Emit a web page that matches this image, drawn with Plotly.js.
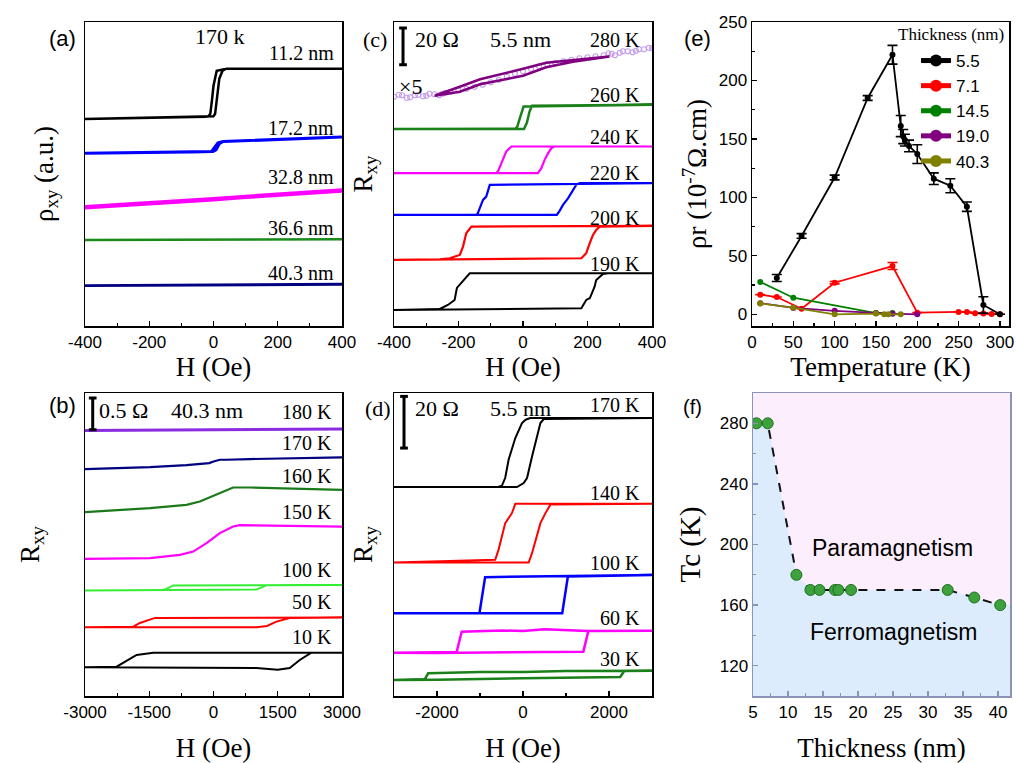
<!DOCTYPE html>
<html><head><meta charset="utf-8">
<script src="https://cdn.plot.ly/plotly-3.0.1.min.js"></script>
<style>html,body{margin:0;padding:0;background:#fff}#chart{width:1016px;height:763px}</style>
</head><body><div id="chart"></div>
<script>
// ---------- Panel (a): rho_xy vs H at 170 K, different thicknesses (a.u., offset) ----------
const a_H_112 = [400, 40, 10, 0, -5, -10, -16, -22, -400, -22, 0, 5, 12, 18, 28, 40, 400];
const a_R_112 = [257, 257, 255, 240, 225, 212, 209.5, 209, 206.7, 209, 209.5, 212, 230, 247, 255, 257, 257];
const a_H_172 = [400, 165, 30, 14, 2, -6, -12, -400, -12, -2, 8, 18, 30, 165, 400];
const a_R_172 = [188.7, 186, 184.3, 183, 178, 174.5, 174, 172.7, 174, 174.3, 176, 182, 184.3, 186, 188.7];
const a_H_328 = [-400, -300, -200, -100, 0, 100, 200, 300, 400];
const a_R_328 = [118.7, 120.5, 122.7, 124.7, 126.7, 129, 131, 133.3, 135.3];
const a_H_366 = [-400, -200, 0, 200, 400];
const a_R_366 = [86, 86.1, 86.3, 86.5, 86.7];
const a_H_403 = [-400, -200, 0, 200, 400];
const a_R_403 = [40.3, 40.5, 40.9, 41.3, 41.7];
const a_ticks = [-400, -200, 0, 200, 400];
const a_ticktext = ['-400', '-200', '0', '200', '400'];

// ---------- Panel (b): 40.3 nm, R_xy vs H ----------
const b_H_180 = [-3000, -1500, 0, 1500, 3000];
const b_R_180 = [265.3, 265.7, 266, 266.3, 266.7];
const b_H_170 = [-3000, -1484, -630, -319, -100, 0, 150, 303, 847, 3000];
const b_R_170 = [226.7, 228.7, 230.7, 232, 232.7, 234.3, 236, 236, 236.7, 238.3];
const b_H_160 = [-3000, -1484, -630, -319, 0, 303, 458, 847, 3000];
const b_R_160 = [183.7, 187.7, 191, 194.3, 200, 206, 208.3, 208.3, 206];
const b_H_150 = [-3000, -1484, -785, -474, -163, 148, 458, 614, 3000];
const b_R_150 = [137, 137.7, 141, 144.3, 152.7, 162.7, 169.3, 170.7, 169.3];
const b_H_100 = [3000, -940, -1100, -1250, -3000, 1000, 1100, 1240, 3000];
const b_R_100 = [111, 110.5, 107, 105.3, 105.3, 106.3, 108, 110.7, 111];
const b_H_50 = [3000, -1050, -1368, -1718, -1873, -3000, 1003, 1250, 1469, 1780, 3000];
const b_R_50 = [78.3, 78.3, 78, 73, 69.3, 68.7, 68.7, 70, 74.3, 78, 78.3];
const b_H_10 = [3000, -1407, -1795, -2262, -3000, -1500, 0, 1000, 1500, 1780, 2013, 2285, 3000];
const b_R_10 = [43.3, 43.3, 41, 29.3, 28.7, 28.7, 28.3, 28, 26.3, 28, 36, 43.3, 43.3];
const b_ticks = [-3000, -1500, 0, 1500, 3000];
const b_ticktext = ['-3000', '-1500', '0', '1500', '3000'];
const b_minor = [-2250, -750, 750, 2250];

// ---------- Panel (c): 5.5 nm, R_xy vs H, 190-280 K ----------
const c_H_280x5 = [-400,-385,-375,-360,-350,-335,-325,-310,-300,-290,-275,-260,-250,-240,-225,-200,-175,-150,-125,-100,-75,-50,-25,0,25,50,75,100,125,150,175,200,225,250,265,275,285,300,310,325,340,350,360,375,390,400];
const c_R_280x5 = [229,231,230.5,228,228.5,230.5,231,229.5,230,232,231.5,230.5,232,233,234,235.5,237,239,241,243.5,246,249,252,254.5,257,259.5,261.5,263,264.5,266,267.5,268.5,269.5,270.5,272.5,272,270.5,273,274.5,274.5,273.5,275,276.5,276.5,278,277.5];
const c_H_280 = [268, 155, 72, 0, -62, -133, -196, -274, -196, -133, -62, 0, 72, 155, 268];
const c_R_280 = [269.3, 266, 263, 257, 252, 246.5, 239, 230, 234, 241.5, 246, 250, 258.5, 264, 269.3];
const c_H_260 = [400, 2, -8, -18, -24, -400, 3, 12, 20, 28, 400];
const c_R_260 = [221, 219.3, 209.3, 199, 197, 196.7, 196.7, 203, 214, 220, 221];
const c_H_240 = [400, -36, -52, -67, -78, -83, -400, 46, 57, 67, 78, 88, 98, 400];
const c_R_240 = [179.3, 179.3, 174.3, 162.7, 154.3, 152.7, 152.7, 152.7, 157.7, 166, 172.7, 177.7, 179.3, 179.3];
const c_H_220 = [400, -103, -114, -124, -134, -140, -145, -400, 105, 114, 124, 140, 155, 165, 176, 400];
const c_R_220 = [142.7, 141, 129.3, 126, 117.7, 112.7, 111, 111, 111, 115.3, 121, 127.7, 136, 141, 142.7, 142.7];
const c_H_200 = [400, -160, -176, -186, -196, -227, -258, -400, 181, 196, 207, 217, 227, 238, 400];
const c_R_200 = [100, 99.3, 92.7, 79.3, 71, 67.7, 66.7, 66, 67.7, 72.7, 82.7, 91, 96, 99.3, 100];
const c_H_190 = [400, -165, -175, -195, -205, -212, -233, -258, -400, 181, 196, 207, 222, 227, 248, 264, 400];
const c_R_190 = [52.7, 52.7, 49, 41, 38, 26, 21, 17, 16, 17.7, 26, 27.7, 39.3, 46, 52, 52.7, 52.7];

// ---------- Panel (d): 5.5 nm, R_xy vs H, 30-170 K ----------
const d_H_170 = [3000, 170, 60, -23, -179, -335, -413, -491, -600, -3000, -140, 16, 94, 210, 327, 405, 483, 3000];
const d_R_170 = [277.7, 277.7, 276, 272.7, 257.7, 236, 218, 210, 208.7, 208.7, 208.7, 212.7, 217.7, 239.3, 257.7, 272.7, 276.7, 277.7];
const d_H_140 = [3000, -179, -257, -413, -569, -647, -3000, 132, 210, 405, 522, 639, 3000];
const d_R_140 = [192, 192, 182.7, 172.7, 146, 136, 133.3, 133.3, 142.7, 172.7, 182.7, 191.3, 192];
const d_H_100 = [3000, -881, -1013, -3000, 912, 1044, 3000];
const d_R_100 = [121, 118.7, 82.7, 82.7, 82.7, 119.5, 121];
const d_H_60 = [3000, 2000, 1500, 500, 0, -500, -1000, -1426, -1543, -3000, -2000, -1000, 0, 1000, 1403, 1520, 3000];
const d_R_60 = [65.3, 65.5, 65, 66.7, 65, 65.5, 64.7, 64.3, 44, 43.3, 43, 43.3, 44, 43.7, 44.3, 65, 65.3];
const d_H_30 = [3000, 1000, 0, -1000, -2206, -2284, -3000, -2000, 0, 1000, 2260, 2354, 3000];
const d_R_30 = [25.3, 25, 24, 24, 22.7, 16.7, 16, 16.3, 17.7, 18.3, 19, 25, 25.3];
const d_ticks = [-2000, 0, 2000];
const d_ticktext = ['-2000', '0', '2000'];
const d_minor = [-3000, -1000, 1000, 3000];

// ---------- Panel (e): remanent resistivity vs temperature ----------
const e_T_55 = [30, 60, 100, 140, 170, 180, 183, 185, 190, 200, 220, 240, 260, 280, 300];
const e_P_55 = [31, 67, 117, 185, 222, 161, 152, 149, 144, 137, 116, 110, 92, 8, 0];
const e_E_55 = [3, 2, 2, 2, 8, 9, 6, 5, 5, 8, 5, 6, 4, 7, 0];
const e_T_71 = [10, 30, 60, 100, 170, 200, 250, 260, 270, 280, 290, 300];
const e_P_71 = [16.8, 14.8, 4.8, 27, 41.3, 1.4, 2, 2, 1, 0.7, 0.3, 0];
const e_E_71 = [0, 0, 0, 1, 3, 0, 0, 0, 0, 0, 0, 0];
const e_T_145 = [10, 50, 150, 170];
const e_P_145 = [27.6, 14.2, 1.1, 1.1];
const e_T_190 = [10, 50, 100, 150, 170, 200];
const e_P_190 = [9.5, 5.5, 3, 1, 0.5, 0];
const e_T_403 = [10, 50, 100, 150, 160, 165, 180];
const e_P_403 = [9.3, 5.7, 0, 0.6, 0, 0, 0];
const e_legend = ['5.5', '7.1', '14.5', '19.0', '40.3'];

// ---------- Panel (f): Tc vs thickness ----------
const f_thick = [5.5, 7.1, 11.2, 13.2, 14.5, 16.7, 17.2, 19.0, 32.8, 36.6, 40.3];
const f_Tc = [280, 280, 180, 170, 170, 170, 170, 170, 170, 165, 160];

// ---------- layout helpers ----------
const FW = 1016, FH = 763;
const px = x => x / FW, py = y => 1 - y / FH;
const SERIF = 'Liberation Serif, Times New Roman, serif';
const SANS = 'Liberation Sans, Arial, sans-serif';

function axisBase(dom, range, anchor, opts) {
  return Object.assign({
    domain: dom, range: range, anchor: anchor, showline: true, mirror: true,
    linecolor: 'black', linewidth: 1.5, ticks: 'inside', ticklen: 5, tickwidth: 1.2, tickcolor: 'black',
    showgrid: false, zeroline: false, automargin: false,
    tickfont: {family: SANS, size: 17, color: 'black'}
  }, opts || {});
}
function ytitleOnly(dom, range, anchor, text, standoff) {
  return axisBase(dom, range, anchor, {showticklabels: false, ticks: '',
    title: {text: text, font: {family: SERIF, size: 27, color: 'black'}, standoff: standoff}});
}
function xtitle(text, standoff) { return {text: text, font: {family: SERIF, size: 27, color: 'black'}, standoff: standoff}; }
function minorAt(vals, color) { return {tickmode: 'array', tickvals: vals, ticks: 'inside', ticklen: 3, tickcolor: color || 'black'}; }

const xA = [px(85), px(342)], xC = [px(394), px(652)], xE = [px(752), px(1009)], xF = [px(753), px(1010)];
const yTop = [py(326), py(22)], yBot = [py(696), py(393)];

function line(x, y, color, xa, ya, w) {
  return {x: x, y: y, xaxis: xa, yaxis: ya, mode: 'lines', line: {color: color, width: w || 2.2}, showlegend: false, hoverinfo: 'skip'};
}

const traces = [
  // (a)
  line(a_H_112, a_R_112, '#000000', 'x', 'y', 2.5),
  line(a_H_172, a_R_172, '#0000ff', 'x', 'y', 3),
  line(a_H_328, a_R_328, '#ff00ff', 'x', 'y', 4.5),
  line(a_H_366, a_R_366, '#1a8a1a', 'x', 'y', 2.5),
  line(a_H_403, a_R_403, '#000080', 'x', 'y', 2.8),
  // (b)
  line(b_H_180, b_R_180, '#8a2be2', 'x2', 'y2', 3),
  line(b_H_170, b_R_170, '#000080', 'x2', 'y2', 2.2),
  line(b_H_160, b_R_160, '#1a7a1a', 'x2', 'y2', 2.2),
  line(b_H_150, b_R_150, '#ff00ff', 'x2', 'y2', 2.2),
  line(b_H_100, b_R_100, '#33ee33', 'x2', 'y2', 2),
  line(b_H_50, b_R_50, '#ff0000', 'x2', 'y2', 2),
  line(b_H_10, b_R_10, '#000000', 'x2', 'y2', 2),
  // (c)
  {x: c_H_280x5, y: c_R_280x5, xaxis: 'x3', yaxis: 'y3', mode: 'markers',
   marker: {symbol: 'circle-open', size: 5, color: '#c49ced', line: {width: 1.2}}, showlegend: false, hoverinfo: 'skip'},
  line(c_H_280, c_R_280, '#800080', 'x3', 'y3', 2.5),
  line(c_H_260, c_R_260, '#1a801a', 'x3', 'y3', 2.5),
  line(c_H_240, c_R_240, '#ff00ff', 'x3', 'y3', 2.2),
  line(c_H_220, c_R_220, '#0000ff', 'x3', 'y3', 2.2),
  line(c_H_200, c_R_200, '#ff0000', 'x3', 'y3', 2.2),
  line(c_H_190, c_R_190, '#000000', 'x3', 'y3', 2),
  // (d)
  line(d_H_170, d_R_170, '#000000', 'x4', 'y4', 2),
  line(d_H_140, d_R_140, '#ff0000', 'x4', 'y4', 2),
  line(d_H_100, d_R_100, '#0000ff', 'x4', 'y4', 2.5),
  line(d_H_60, d_R_60, '#ff00ff', 'x4', 'y4', 2.5),
  line(d_H_30, d_R_30, '#1a801a', 'x4', 'y4', 2.5),
];

// (e) — drawn with 5.5 nm last (on top) but listed first in the legend
const eSeries = [
  [e_T_71, e_P_71, e_E_71, '#ff0000', 1],
  [e_T_145, e_P_145, null, '#008000', 2],
  [e_T_190, e_P_190, null, '#800080', 3],
  [e_T_403, e_P_403, null, '#808000', 4],
  [e_T_55, e_P_55, e_E_55, '#000000', 0],
];
eSeries.forEach(s => {
  const i = s[4];
  const t = {x: s[0], y: s[1], xaxis: 'x5', yaxis: 'y5', mode: 'lines+markers', name: e_legend[i], legendrank: i + 1,
    line: {color: s[3], width: 1.8}, marker: {color: s[3], size: 6}, showlegend: true, hoverinfo: 'skip'};
  if (s[2]) t.error_y = {type: 'data', array: s[2], visible: true, color: s[3], thickness: 1.6, width: 5};
  traces.push(t);
});

// (f)
traces.push({
  x: [5].concat(f_thick, [41.7]), y: [f_Tc[0]].concat(f_Tc, [f_Tc[f_Tc.length - 1]]),
  xaxis: 'x6', yaxis: 'y6', mode: 'lines', line: {width: 0}, fill: 'tozeroy', fillcolor: '#dcecfc',
  showlegend: false, hoverinfo: 'skip'
});
traces.push({
  x: f_thick, y: f_Tc, xaxis: 'x6', yaxis: 'y6', mode: 'lines+markers',
  line: {color: '#111', width: 2, dash: 'dash'},
  marker: {color: '#3da23d', size: 11, line: {color: '#1f6f1f', width: 1}},
  showlegend: false, hoverinfo: 'skip'
});

function ann(text, x, y, size, font, opts) {
  return Object.assign({text: text, x: px(x), y: py(y), xref: 'paper', yref: 'paper', showarrow: false,
    xanchor: 'center', yanchor: 'middle', font: {family: font || SERIF, size: size || 20, color: 'black'}}, opts || {});
}
const R = {xanchor: 'right'}, L = {xanchor: 'left'};
const annotations = [
  ann('(a)', 62, 38, 22, SANS), ann('170 k', 220, 37, 22),
  ann('11.2 nm', 336, 53, 20, SERIF, R), ann('17.2 nm', 336, 128, 20, SERIF, R),
  ann('32.8 nm', 336, 177, 20, SERIF, R), ann('36.6 nm', 336, 228, 20, SERIF, R),
  ann('40.3 nm', 336, 273, 20, SERIF, R),
  ann('(c)', 375, 40, 22), ann('20 Ω', 413, 40, 22, SERIF, L), ann('5.5 nm', 520, 40, 22),
  ann('×5', 397, 87, 22, SERIF, L),
  ann('280 K', 642, 40, 20, SERIF, R), ann('260 K', 642, 95, 20, SERIF, R), ann('240 K', 642, 137, 20, SERIF, R),
  ann('220 K', 642, 173, 20, SERIF, R), ann('200 K', 642, 218, 20, SERIF, R), ann('190 K', 642, 264, 20, SERIF, R),
  ann('(b)', 62, 405, 22, SANS), ann('0.5 Ω', 97, 410, 22, SERIF, L), ann('40.3 nm', 207, 410, 22),
  ann('180 K', 334, 412, 20, SERIF, R), ann('170 K', 334, 443, 20, SERIF, R), ann('160 K', 334, 476, 20, SERIF, R),
  ann('150 K', 334, 512, 20, SERIF, R), ann('100 K', 334, 570, 20, SERIF, R), ann('50 K', 334, 602, 20, SERIF, R),
  ann('10 K', 334, 637, 20, SERIF, R),
  ann('(d)', 378, 408, 22), ann('20 Ω', 413, 408, 22, SERIF, L), ann('5.5 nm', 520, 408, 22),
  ann('170 K', 642, 405, 20, SERIF, R), ann('140 K', 642, 493, 20, SERIF, R), ann('100 K', 642, 563, 20, SERIF, R),
  ann('60 K', 642, 618, 20, SERIF, R), ann('30 K', 642, 659, 20, SERIF, R),
  ann('(e)', 697, 38, 22, SANS),
  ann('Thickness (nm)', 951, 34, 17),
  ann('(f)', 692, 407, 20, SANS),
  ann('Paramagnetism', 892, 548, 23, SANS), ann('Ferromagnetism', 893, 632, 23, SANS),
];

function scaleBar(xa, ya, xv, y0, y1, cap) {
  const s = {type: 'line', xref: xa, yref: ya, line: {color: 'black', width: 3}};
  return [Object.assign({x0: xv, x1: xv, y0: y0, y1: y1}, s),
          Object.assign({x0: xv - cap, x1: xv + cap, y0: y0, y1: y0}, s),
          Object.assign({x0: xv - cap, x1: xv + cap, y0: y1, y1: y1}, s)];
}
const shapes = [].concat(
  scaleBar('x3', 'y3', -372, 261, 297.7, 12),
  scaleBar('x2', 'y2', -2820, 266, 297.7, 90),
  scaleBar('x4', 'y4', -2767, 247.7, 299.3, 90)
);

const fAxisColor = '#8c93b6';
const layout = {
  width: 1016, height: 763, margin: {l: 0, r: 0, t: 0, b: 0}, paper_bgcolor: 'white', plot_bgcolor: 'white',
  showlegend: true,
  legend: {x: px(916), y: py(43), xanchor: 'left', yanchor: 'top', bgcolor: 'rgba(0,0,0,0)',
    font: {family: SANS, size: 17, color: 'black'}, itemsizing: 'constant', tracegroupgap: 0, traceorder: 'normal'},
  xaxis: axisBase(xA, [-400, 400], 'y', {tickmode: 'array', tickvals: a_ticks, ticktext: a_ticktext,
    minor: minorAt([-300, -100, 100, 300]), title: xtitle('H (Oe)', 4)}),
  yaxis: ytitleOnly(yTop, [0, 303.7], 'x', 'ρ<sub>xy</sub> (a.u.)', 22),
  xaxis2: axisBase(xA, [-3000, 3000], 'y2', {tickmode: 'array', tickvals: b_ticks, ticktext: b_ticktext,
    minor: minorAt(b_minor), title: xtitle('H (Oe)', 18)}),
  yaxis2: ytitleOnly(yBot, [0, 302.7], 'x2', 'R<sub>xy</sub>', 36),
  xaxis3: axisBase(xC, [-400, 400], 'y3', {tickmode: 'array', tickvals: a_ticks, ticktext: a_ticktext,
    minor: minorAt([-300, -100, 100, 300]), title: xtitle('H (Oe)', 4)}),
  yaxis3: ytitleOnly(yTop, [0, 303.7], 'x3', 'R<sub>xy</sub>', 12),
  xaxis4: axisBase(xC, [-3000, 3000], 'y4', {tickmode: 'array', tickvals: d_ticks, ticktext: d_ticktext,
    minor: minorAt(d_minor), title: xtitle('H (Oe)', 18)}),
  yaxis4: ytitleOnly(yBot, [0, 302.7], 'x4', 'R<sub>xy</sub>', 12),
  xaxis5: axisBase(xE, [0, 311], 'y5', {tick0: 0, dtick: 50, minor: {dtick: 25, ticks: 'inside', ticklen: 3, tickcolor: 'black'}, title: xtitle('Temperature (K)', 4)}),
  yaxis5: axisBase(yTop, [-10, 250], 'x5', {tick0: 0, dtick: 50, minor: {dtick: 25, ticks: 'inside', ticklen: 3, tickcolor: 'black'},
    title: {text: 'ρr (10<sup>-7</sup>Ω.cm)', font: {family: SERIF, size: 27, color: 'black'}, standoff: 4}}),
  xaxis6: axisBase(xF, [5, 41.7], 'y6', {tick0: 5, dtick: 5, linecolor: fAxisColor, tickcolor: fAxisColor,
    minor: {dtick: 2.5, ticks: 'inside', ticklen: 3, tickcolor: fAxisColor}, title: xtitle('Thickness (nm)', 18)}),
  yaxis6: axisBase(yBot, [100, 300], 'x6', {tick0: 120, dtick: 40, linecolor: fAxisColor, tickcolor: fAxisColor,
    minor: {dtick: 20, ticks: 'inside', ticklen: 3, tickcolor: fAxisColor},
    title: {text: 'Tc (K)', font: {family: SERIF, size: 29, color: 'black'}, standoff: 10}}),
  annotations: annotations,
  shapes: shapes.concat([{type: 'rect', xref: 'x6 domain', yref: 'y6 domain', x0: 0, x1: 1, y0: 0, y1: 1,
    fillcolor: '#fdeefd', line: {width: 0}, layer: 'below'}])
};

Plotly.newPlot('chart', traces, layout, {staticPlot: true, displayModeBar: false});
</script>
</body></html>
